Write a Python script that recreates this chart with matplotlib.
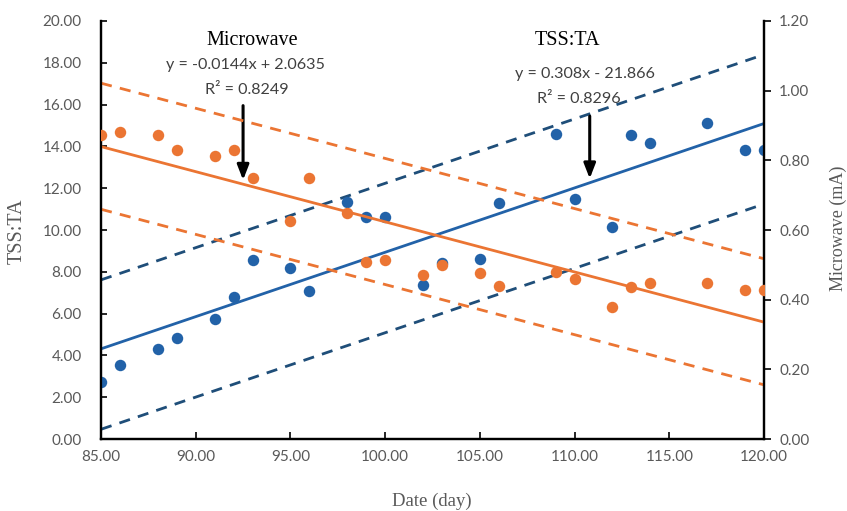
import matplotlib
matplotlib.use("Agg")
import matplotlib.pyplot as plt
import numpy as np

# sampling days shared by both series
days = [85, 86, 88, 89, 91, 92, 93, 95, 96, 98, 99, 100,
        102, 103, 105, 106, 109, 110, 112, 113, 114, 117, 119, 120]

# TSS:TA ratio (left axis)
tss_ta = [2.75, 3.56, 4.30, 4.82, 5.75, 6.80, 8.57, 8.18, 7.10, 11.36, 10.60, 10.62,
          7.39, 8.40, 8.63, 11.27, 14.58, 11.50, 10.14, 14.53, 14.18, 15.11, 13.83, 13.83]

# microwave reading in mA (right axis)
microwave = [0.872, 0.880, 0.872, 0.831, 0.812, 0.831, 0.749, 0.627, 0.750, 0.649, 0.507, 0.515,
             0.470, 0.499, 0.477, 0.438, 0.480, 0.458, 0.379, 0.437, 0.448, 0.448, 0.428, 0.428]

# linear fits and the width of the dashed bands around them
tss_slope, tss_icpt, tss_r2 = 0.308, -21.866, 0.8296
mw_slope, mw_icpt, mw_r2 = -0.0144, 2.0635, 0.8249
tss_band = (3.3, -3.85)
mw_band = (0.182, -0.18)

x_ticks = [85, 90, 95, 100, 105, 110, 115, 120]

blue = "#2262a8"
blue_dash = "#1f4e79"
orange = "#eb7533"
grey = "#595959"
sans = ["Lato", "DejaVu Sans"]
serif = ["Liberation Serif", "DejaVu Serif"]

fig = plt.figure(figsize=(8.47, 5.11), dpi=100)
ax = fig.add_axes([101 / 847, 1 - 439 / 511, 663 / 847, 418 / 511])
ax2 = ax.twinx()

xs = np.array([85, 120])

# TSS:TA series
ax.scatter(days, tss_ta, s=68, color=blue, zorder=3, linewidths=0)
fit = tss_slope * xs + tss_icpt
ax.plot(xs, fit, color=blue, lw=2)
ax.plot(xs, fit + tss_band[0], color=blue_dash, lw=2, ls=(0, (4, 3)))
ax.plot(xs, fit + tss_band[1], color=blue_dash, lw=2, ls=(0, (4, 3)))

# microwave series
ax2.scatter(days, microwave, s=68, color=orange, zorder=3, linewidths=0)
mfit = mw_slope * xs + mw_icpt
ax2.plot(xs, mfit, color=orange, lw=2)
ax2.plot(xs, mfit + mw_band[0], color=orange, lw=2, ls=(0, (4, 3)))
ax2.plot(xs, mfit + mw_band[1], color=orange, lw=2, ls=(0, (4, 3)))

ax.set_xlim(85, 120)
ax.set_ylim(0, 20)
ax2.set_ylim(0, 1.2)
ax.set_xticks(x_ticks)
ax.set_yticks(np.arange(0, 20.1, 2))
ax2.set_yticks(np.arange(0, 1.21, 0.2))
ax.xaxis.set_major_formatter(matplotlib.ticker.FormatStrFormatter("%.2f"))
ax.yaxis.set_major_formatter(matplotlib.ticker.FormatStrFormatter("%.2f"))
ax2.yaxis.set_major_formatter(matplotlib.ticker.FormatStrFormatter("%.2f"))

for a in (ax, ax2):
    a.spines["top"].set_visible(False)
    for s in a.spines.values():
        s.set_linewidth(1.6)
ax.tick_params(axis="x", direction="in", length=5, width=1.2, labelsize=11,
               labelcolor=grey, pad=8)
ax.tick_params(axis="y", direction="in", length=4, width=1.2, labelsize=11,
               labelcolor=grey, pad=14)
ax2.tick_params(axis="y", direction="out", length=5, width=1.2, labelsize=11,
                labelcolor=grey, pad=6)
for lab in ax.get_xticklabels() + ax.get_yticklabels() + ax2.get_yticklabels():
    lab.set_family(sans)

# axis titles
fig.text(17 / 847, 1 - 231 / 511, "TSS:TA", rotation=90, ha="center", va="center",
         family=serif, fontsize=14.5, color=grey)
fig.text(838 / 847, 1 - 228 / 511, "Microwave (mA)", rotation=90, ha="center", va="center",
         family=serif, fontsize=13, color=grey)
fig.text(432 / 847, 1 - 501 / 511, "Date (day)", ha="center", va="center",
         family=serif, fontsize=13.5, color=grey)

# fit labels with arrows pointing at the regression lines
ax.text(93.0, 19.05, "Microwave", ha="center", va="center", family=serif, fontsize=14.5)
ax.text(92.65, 17.9, f"y = {mw_slope}x + {mw_icpt}", ha="center", va="center",
        family=sans, fontsize=11.6, color="#404040")
ax.text(92.7, 16.72, f"R² = {mw_r2}", ha="center", va="center", family=sans,
        fontsize=11.6, color="#404040")
ax.annotate("", xy=(92.5, mw_slope * 92.5 + mw_icpt), xycoords=ax2.transData,
            xytext=(92.5, 15.95), textcoords=ax.transData,
            arrowprops=dict(arrowstyle="-|>,head_width=0.35,head_length=0.9",
                            color="black", lw=2.2, shrinkA=0, shrinkB=3))

ax.text(109.6, 19.05, "TSS:TA", ha="center", va="center", family=serif, fontsize=14.5)
ax.text(110.55, 17.45, f"y = {tss_slope}x - {-tss_icpt}", ha="center", va="center",
        family=sans, fontsize=11.6, color="#404040")
ax.text(110.2, 16.25, f"R² = {tss_r2}", ha="center", va="center", family=sans,
        fontsize=11.6, color="#404040")
ax.annotate("", xy=(110.8, tss_slope * 110.8 + tss_icpt), xytext=(110.8, 15.45),
            arrowprops=dict(arrowstyle="-|>,head_width=0.35,head_length=0.9",
                            color="black", lw=2.2, shrinkA=0, shrinkB=3))

fig.savefig("out.png", dpi=100)
